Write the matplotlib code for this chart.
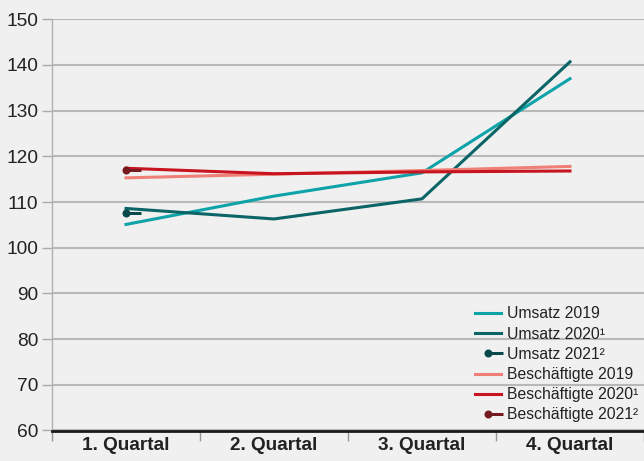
import matplotlib
matplotlib.use('Agg')
import matplotlib.pyplot as plt
from matplotlib.path import Path
import numpy as np

quartale = ['1. Quartal', '2. Quartal', '3. Quartal', '4. Quartal']

umsatz_2019 = [105.1, 111.3, 116.4, 137.0]
umsatz_2020 = [108.6, 106.3, 110.7, 140.7]
umsatz_2021 = [107.6]
besch_2019 = [115.3, 116.1, 116.9, 117.8]
besch_2020 = [117.4, 116.2, 116.6, 116.8]
besch_2021 = [117.1]

bg = '#f0f0f0'
plt.rcParams['font.family'] = ['Liberation Sans', 'DejaVu Sans']

# Punkt mit kurzem Strich nach rechts (wie in der Vorlage)
kreis = Path.circle((0, 0), 4)
strich = Path([(0, -1.5), (15, -1.5), (15, 1.5), (0, 1.5), (0, -1.5)],
              [Path.MOVETO, Path.LINETO, Path.LINETO, Path.LINETO, Path.CLOSEPOLY])
punkt_strich = Path.make_compound_path(kreis, strich)

fig = plt.figure(figsize=(6.44, 4.61), dpi=100, facecolor=bg)
ax = fig.add_axes([52/644, 1 - 430.5/461, 1 - 52/644, (430.5 - 19.3)/461])
ax.set_facecolor(bg)

x = np.arange(len(quartale))
lw = 2.2
ax.plot(x, umsatz_2019, color='#0ea3a8', lw=lw, label='Umsatz 2019')
ax.plot(x, umsatz_2020, color='#0b6466', lw=lw, label='Umsatz 2020¹')
ax.plot(x[:1], umsatz_2021, color='#084a4b', ls='none', marker=punkt_strich,
        markersize=21.6, markeredgewidth=0, label='Umsatz 2021²')
ax.plot(x, besch_2019, color='#f07f77', lw=lw, label='Beschäftigte 2019')
ax.plot(x, besch_2020, color='#c8141f', lw=lw, label='Beschäftigte 2020¹')
ax.plot(x[:1], besch_2021, color='#751a1f', ls='none', marker=punkt_strich,
        markersize=21.6, markeredgewidth=0, label='Beschäftigte 2021²')

ax.set_xlim(-0.5, 3.5)
ax.set_ylim(60, 150)
ax.set_yticks(range(60, 151, 10))
ax.set_xticks(x)
ax.set_xticklabels(quartale, fontsize=13.7, fontweight='bold', color='#222222')
ax.set_xticks(np.arange(-0.5, 3.6, 1), minor=True)
ax.tick_params(axis='x', which='major', length=0, pad=5)
ax.tick_params(axis='x', which='minor', length=7, width=1, color='#999999')
ax.tick_params(axis='y', length=7, width=1, color='#aaaaaa', labelsize=13.8,
               labelcolor='#222222', pad=3)

ax.grid(axis='y', color='#b8b8b8', lw=1.5)
ax.set_axisbelow(True)
for s in ['top', 'right']:
    ax.spines[s].set_visible(False)
ax.spines['left'].set_color('#b0b0b0')
ax.spines['left'].set_linewidth(1)
ax.spines['bottom'].set_color('#1a1a1a')
ax.spines['bottom'].set_linewidth(2)

fig.legend(loc='upper left', bbox_to_anchor=(475/644, 1 - 306.5/461), frameon=False,
           fontsize=11.3, handlelength=1.65, handletextpad=0.4, labelspacing=0.33,
           borderpad=0, borderaxespad=0, labelcolor='#222222')

fig.savefig('out.png', dpi=100, facecolor=bg)
